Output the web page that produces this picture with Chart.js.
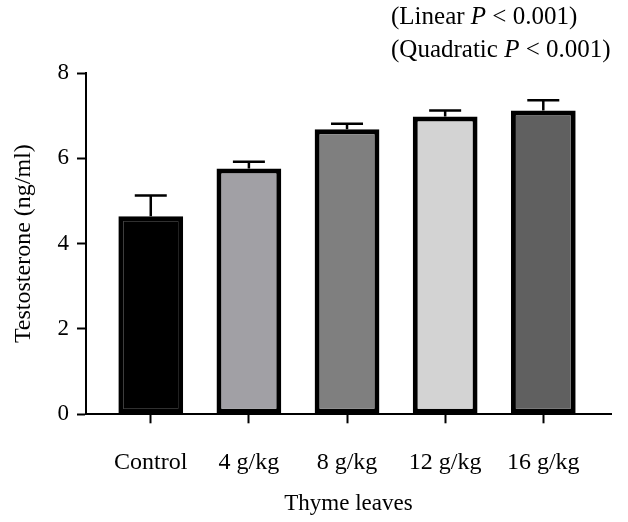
<!DOCTYPE html>
<html>
<head>
<meta charset="utf-8">
<script src="https://cdn.jsdelivr.net/npm/chart.js@4.4.0/dist/chart.umd.min.js"></script>
<style>
  html, body { margin: 0; padding: 0; background: #fff; }
  #wrap { width: 628px; height: 522px; }
</style>
</head>
<body>
<div id="wrap"><canvas id="chart"></canvas></div>
<script>
  // data
  const categories = ['Control', '4 g/kg', '8 g/kg', '12 g/kg', '16 g/kg'];
  const testosterone = [4.64, 5.76, 6.68, 6.98, 7.12];
  const errorUpper = [5.13, 5.92, 6.81, 7.12, 7.36];
  const barColors = ['#000000', '#a1a0a5', '#7f7f7f', '#d3d3d3', '#606060'];
  const yTicks = [0, 2, 4, 6, 8];

  const FONT = "'Liberation Serif', 'DejaVu Serif', serif";

  // upper error bars (whisker + cap)
  const errorBars = {
    id: 'errorBars',
    afterDatasetsDraw(chart) {
      const { ctx, scales: { x, y } } = chart;
      ctx.save();
      ctx.strokeStyle = '#000';
      ctx.lineWidth = 2.5;
      testosterone.forEach((v, i) => {
        const px = x.getPixelForValue(i);
        const top = y.getPixelForValue(errorUpper[i]);
        const base = y.getPixelForValue(v);
        ctx.beginPath();
        ctx.moveTo(px, base);
        ctx.lineTo(px, top);
        ctx.moveTo(px - 16, top);
        ctx.lineTo(px + 16, top);
        ctx.stroke();
      });
      ctx.restore();
    }
  };

  // trend test note, top right
  const trendNote = {
    id: 'trendNote',
    afterDraw(chart) {
      const ctx = chart.ctx;
      const lines = [['(Linear ', ' < 0.001)'], ['(Quadratic ', ' < 0.001)']];
      ctx.save();
      ctx.fillStyle = '#000';
      ctx.textBaseline = 'alphabetic';
      lines.forEach((parts, k) => {
        let cx = 391;
        const by = 24 + k * 33;
        ctx.font = '25px ' + FONT;
        ctx.fillText(parts[0], cx, by);
        cx += ctx.measureText(parts[0]).width;
        ctx.font = 'italic 25px ' + FONT;
        ctx.fillText('P', cx, by);
        cx += ctx.measureText('P').width;
        ctx.font = '25px ' + FONT;
        ctx.fillText(parts[1], cx, by);
      });
      ctx.restore();
    }
  };

  new Chart(document.getElementById('chart'), {
    type: 'bar',
    data: {
      datasets: [{
        data: testosterone.map((v, i) => ({ x: i, y: v })),
        backgroundColor: barColors,
        borderColor: '#000',
        borderWidth: 5,
        borderSkipped: false,
        barPercentage: 0.66,
        categoryPercentage: 1.0
      }]
    },
    options: {
      responsive: true,
      maintainAspectRatio: false,
      animation: false,
      layout: { padding: { top: 73, right: 17, bottom: 0, left: 0 } },
      plugins: { legend: { display: false }, tooltip: { enabled: false } },
      scales: {
        x: {
          type: 'linear',
          offset: false,
          min: -0.66,
          max: 4.69,
          afterBuildTicks: (s) => { s.ticks = categories.map((c, i) => ({ value: i })); },
          afterFit: (s) => { s.height = 107.7; },
          ticks: {
            callback: (v) => categories[v],
            color: '#000',
            font: { family: FONT, size: 24 },
            padding: 25,
            maxRotation: 0,
            autoSkip: false
          },
          grid: { offset: false, drawOnChartArea: false, drawTicks: true, tickLength: 9, tickWidth: 2, color: '#000' },
          border: { display: true, color: '#000', width: 2 },
          title: {
            display: true,
            text: 'Thyme leaves',
            color: '#000',
            font: { family: FONT, size: 23 },
            padding: { top: 0, bottom: 4 }
          }
        },
        y: {
          min: 0,
          max: 8,
          afterBuildTicks: (s) => { s.ticks = yTicks.map(v => ({ value: v })); },
          afterFit: (s) => { s.width = 86; },
          ticks: {
            color: '#000',
            font: { family: FONT, size: 23 },
            padding: 8
          },
          grid: { drawOnChartArea: false, drawTicks: true, tickLength: 9, tickWidth: 2, color: '#000' },
          border: { display: true, color: '#000', width: 2 },
          title: {
            display: true,
            text: 'Testosterone (ng/ml)',
            color: '#000',
            font: { family: FONT, size: 24 },
            padding: { top: 9, bottom: 0 }
          }
        }
      }
    },
    plugins: [errorBars, trendNote]
  });
</script>
</body>
</html>
